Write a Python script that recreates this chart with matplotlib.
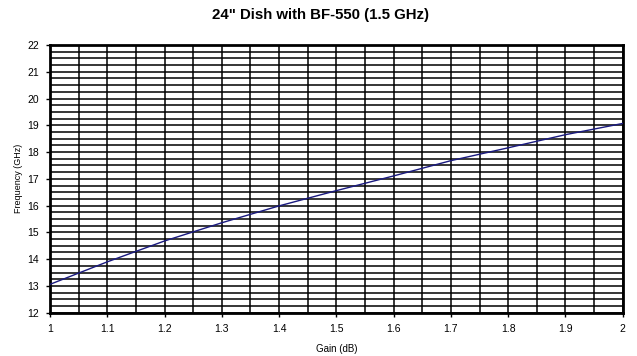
import matplotlib
matplotlib.use("Agg")
import matplotlib.pyplot as plt
import numpy as np

plt.rcParams['font.family'] = ['Liberation Sans', 'DejaVu Sans']

gain = [1.0, 1.1, 1.2, 1.3, 1.4, 1.5, 1.6, 1.7, 1.8, 1.9, 2.0]
freq = [13.06, 13.90, 14.68, 15.36, 15.99, 16.56, 17.11, 17.68, 18.16, 18.65, 19.07]
x_ticks = [1, 1.1, 1.2, 1.3, 1.4, 1.5, 1.6, 1.7, 1.8, 1.9, 2]
x_labels = ['1', '1.1', '1.2', '1.3', '1.4', '1.5', '1.6', '1.7', '1.8', '1.9', '2']
y_ticks = list(range(12, 23))

fig = plt.figure(figsize=(6.37, 3.56), dpi=100)
ax = fig.add_axes([0.0785, 0.1216, 0.8991, 0.752])

ax.set_xlim(1, 2)
ax.set_ylim(12, 22)
ax.set_xticks(x_ticks)
ax.set_xticklabels(x_labels)
ax.set_yticks(y_ticks)
ax.set_xticks(np.arange(1.05, 2.0, 0.1), minor=True)
ax.set_yticks(np.arange(12.25, 22, 0.25), minor=True)
ax.grid(True, which='both', color='black', linewidth=1.1)
ax.set_axisbelow(True)
ax.tick_params(which='minor', length=0)
ax.tick_params(which='major', direction='out', length=3, width=1, labelsize=7.5, colors='black', pad=5)

for s in ax.spines.values():
    s.set_linewidth(2)
    s.set_color('black')

ax.plot(gain, freq, color='#1a1a80', linewidth=1.0, zorder=3)

fig.suptitle('24" Dish with BF-550 (1.5 GHz)', x=0.503, y=0.978, fontsize=10.8, fontweight='bold')
ax.set_xlabel('Gain (dB)', fontsize=7, labelpad=7)
ax.set_ylabel('Frequency (GHz)', fontsize=6.5, labelpad=3)

fig.savefig('out.png', dpi=100)
